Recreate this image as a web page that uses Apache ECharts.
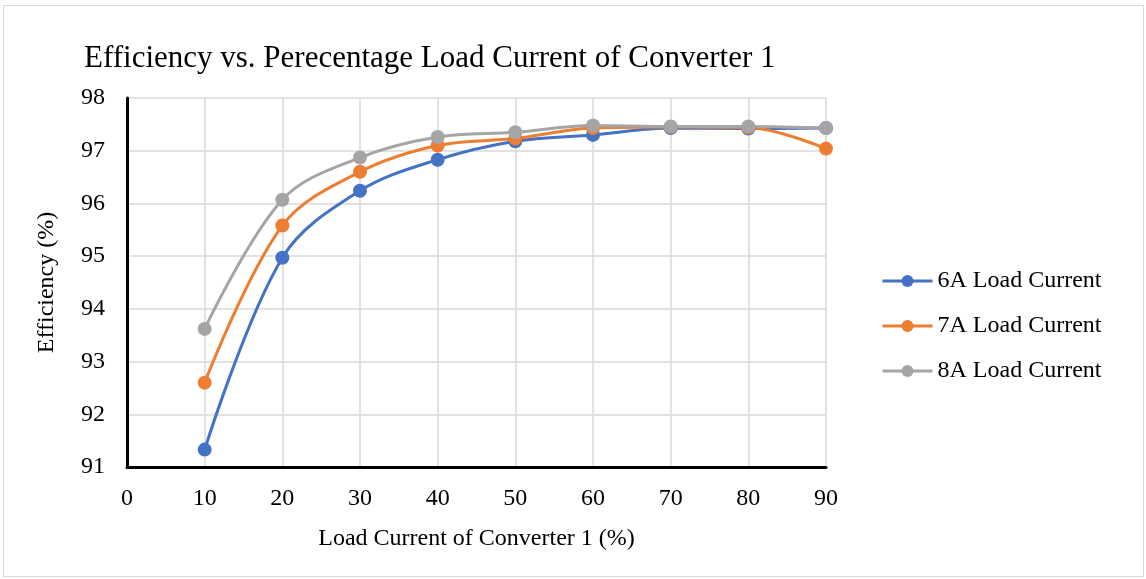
<!DOCTYPE html>
<html>
<head>
<meta charset="utf-8">
<script src="https://cdn.jsdelivr.net/npm/echarts@6/dist/echarts.min.js"></script>
<style>
  html, body { margin: 0; padding: 0; background: #fff; }
  #chart { position: absolute; left: 3px; top: 5px; width: 1141px; height: 572px; border: 1px solid #d9d9d9; box-sizing: border-box; }
</style>
</head>
<body>
<div id="chart"></div>
<script>
// load current of converter 1 (%)
const loadPct = [10, 20, 30, 40, 50, 60, 70, 80, 90];
// efficiency values (%)
const eff6A = [91.33, 94.97, 96.24, 96.83, 97.18, 97.30, 97.43, 97.42, 97.43];
const eff7A = [92.60, 95.58, 96.60, 97.10, 97.23, 97.43, 97.45, 97.44, 97.04];
const eff8A = [93.62, 96.07, 96.87, 97.26, 97.35, 97.48, 97.46, 97.46, 97.43];

const seriesNames = ['6A Load Current', '7A Load Current', '8A Load Current'];
const colors = ['#4472c4', '#ed7d31', '#a5a5a5'];
const font = '"Liberation Serif", "Times New Roman", serif';

const myChart = echarts.init(document.getElementById('chart'));

const pairs = (ys) => loadPct.map((x, i) => [x, ys[i]]);

const option = {
  animation: false,
  color: colors,
  textStyle: { fontFamily: font },
  title: {
    text: 'Efficiency vs. Perecentage Load Current of Converter 1',
    left: 75,
    top: 32,
    textStyle: { fontFamily: font, fontSize: 31, fontWeight: 'normal', color: '#000' }
  },
  legend: {
    orient: 'vertical',
    left: 872,
    top: 258,
    itemGap: 21,
    itemWidth: 50,
    itemHeight: 15,
    data: seriesNames,
    lineStyle: { width: 3 },
    textStyle: { fontFamily: font, fontSize: 24, color: '#000' }
  },
  grid: { left: 123, right: 317, top: 92, bottom: 109 },
  xAxis: {
    type: 'value',
    min: 0,
    max: 90,
    interval: 10,
    name: 'Load Current of Converter 1 (%)',
    nameLocation: 'middle',
    nameGap: 60,
    nameTextStyle: { fontFamily: font, fontSize: 24, color: '#000' },
    axisLine: { show: true, onZero: false, lineStyle: { color: '#000', width: 3 } },
    axisTick: { show: false },
    axisLabel: { fontFamily: font, fontSize: 24, color: '#000', margin: 20 },
    splitLine: { show: true, lineStyle: { color: '#d9d9d9', width: 1.5 } }
  },
  yAxis: {
    type: 'value',
    min: 91,
    max: 98,
    interval: 1,
    name: 'Efficiency (%)',
    nameLocation: 'middle',
    nameGap: 68,
    nameTextStyle: { fontFamily: font, fontSize: 24, color: '#000' },
    axisLine: { show: true, lineStyle: { color: '#000', width: 3 } },
    axisTick: { show: false },
    axisLabel: { fontFamily: font, fontSize: 24, color: '#000', margin: 22 },
    splitLine: { show: true, lineStyle: { color: '#d9d9d9', width: 1.5 } }
  },
  series: [eff6A, eff7A, eff8A].map((ys, i) => ({
    name: seriesNames[i],
    type: 'line',
    data: pairs(ys),
    smooth: 0.35,
    symbol: 'circle',
    symbolSize: 14,
    lineStyle: { width: 3, color: colors[i] },
    itemStyle: { color: colors[i] }
  }))
};

myChart.setOption(option);
</script>
</body>
</html>
